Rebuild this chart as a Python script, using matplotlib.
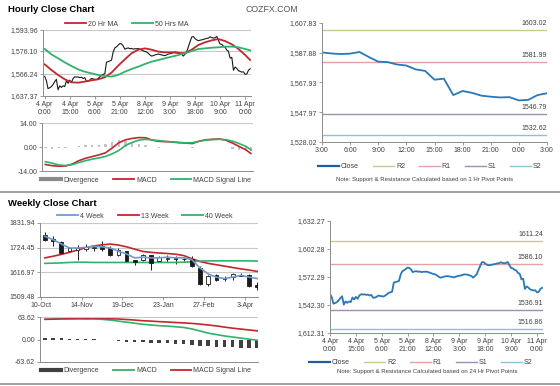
import matplotlib
matplotlib.use("Agg")
import matplotlib.pyplot as plt
from matplotlib.lines import Line2D

plt.rcParams["font.family"] = ["Liberation Sans", "DejaVu Sans"]

W, H = 560, 386

# ---------------- hourly data (4 Apr 0:00 .. 11 Apr 3:00) ----------------
hourly_close = [
    1654.2, 1650.7, 1643.7, 1644.4, 1645.4, 1647.2, 1649.6, 1651.7, 1642.7, 1646.1,
    1644.7, 1646.1, 1645.4, 1650.3, 1648.3, 1651.0, 1648.9, 1652.4, 1653.8, 1653.5,
    1653.8, 1653.1, 1653.5, 1652.4, 1653.1, 1650.0, 1650.3, 1651.0, 1652.4, 1652.0,
    1651.7, 1651.4, 1652.4, 1653.8, 1655.2, 1655.9,
    1656.5, 1666.4, 1666.8, 1667.4, 1668.1, 1675.1, 1678.6, 1679.6, 1681.0, 1682.4,
    1682.0, 1680.3, 1677.5, 1678.2, 1678.6, 1677.9, 1678.2, 1677.5, 1677.9, 1677.9,
    1678.0, 1677.5, 1676.8, 1676.1, 1675.5, 1675.1, 1674.0, 1672.6, 1671.6, 1672.0,
    1672.6, 1673.0, 1673.3, 1673.0, 1672.6, 1672.2, 1672.0, 1672.6, 1673.3, 1673.6,
    1674.0, 1674.6, 1675.1, 1674.9, 1674.7, 1674.0, 1673.3, 1671.6, 1673.3, 1675.1,
    1679.6, 1683.8, 1688.0, 1688.3, 1686.6, 1685.5, 1684.8, 1685.2, 1685.5, 1685.9,
    1686.3, 1686.8, 1687.0,
    1688.1, 1687.4, 1687.0, 1687.3, 1688.4, 1685.0, 1681.9, 1681.6, 1680.0, 1679.3,
    1676.7, 1675.7, 1669.8, 1670.5, 1659.5, 1662.2, 1661.0, 1659.1, 1658.4, 1657.9,
    1658.1, 1655.9, 1656.3, 1659.5, 1660.7,
]
hourly_ticks = ["4 Apr\n0:00", "4 Apr\n15:00", "5 Apr\n6:00", "5 Apr\n21:00", "8 Apr\n12:00",
                "9 Apr\n3:00", "9 Apr\n18:00", "10 Apr\n9:00", "11 Apr\n0:00"]

ma_idx = list(range(0, 124, 4)) + [123]
ma20 = [1664.5, 1659.7, 1655.4, 1651.7, 1649.1, 1648.8, 1649.7, 1650.8, 1651.7, 1653.4,
        1657.4, 1663.4, 1668.8, 1674.0, 1677.1, 1678.2, 1677.1, 1675.4, 1674.8, 1674.8,
        1674.2, 1674.2, 1677.1, 1681.1, 1683.4, 1685.1, 1686.2, 1684.5, 1681.7, 1677.7,
        1672.5, 1668.2]
ma50 = [1677.7, 1673.1, 1669.7, 1666.2, 1663.1, 1660.2, 1658.2, 1656.8, 1655.4, 1654.5,
        1654.0, 1655.4, 1658.2, 1660.5, 1662.5, 1664.8, 1666.8, 1668.2, 1669.7, 1671.1,
        1672.5, 1674.0, 1675.9, 1677.7, 1678.2, 1678.8, 1679.1, 1679.7, 1679.7, 1679.1,
        1677.7, 1676.5]
h_macd = [-10.2, -10.9, -11.2, -11.1, -10.0, -8.0, -6.6, -5.6, -4.6, -3.4,
          -0.6, 2.5, 4.2, 5.0, 5.5, 5.4, 4.0, 3.3, 3.1, 2.9,
          2.5, 2.3, 2.0, 3.4, 4.2, 4.5, 4.7, 4.0, 2.3, 0.3,
          -1.6, -3.8]
h_signal = [-8.6, -9.4, -10.5, -10.8, -10.3, -9.1, -8.0, -7.1, -6.4, -5.5,
            -4.0, -2.0, 0.9, 2.7, 4.0, 4.5, 4.1, 3.7, 3.3, 3.0,
            2.7, 2.4, 2.5, 3.3, 4.0, 4.3, 4.5, 4.3, 3.4, 2.0,
            0.4, -1.6]
h_div = [-0.6, -1.0, -0.8, -0.4, 0.2, 0.6, 1.0, 1.2, 1.4, 1.8,
         3.0, 4.0, 3.5, 2.4, 1.6, 1.0, 0.0, -0.4, -0.2, -0.2,
         -0.2, 0.0, -0.7, 0.0, 0.2, 0.2, 0.2, -0.2, -1.0, -1.6,
         -2.0, -2.3]

h_price_ticks = [1637.37, 1656.24, 1676.10, 1693.96]
h_price_labels = ["1,637.37", "1,566.24", "1,576.10", "1,593.96"]

# 1 hr pivot chart (last 25 hours)
pivot1_ticks = ["3:00", "6:00", "9:00", "12:00", "15:00", "18:00", "21:00", "0:00", "3:00"]
pivot1_yticks = [1628.02, 1647.97, 1667.93, 1687.88, 1707.83]
pivot1_ylabels = ["1,528.02", "1,547.97", "1,567.93", "1,587.88", "1,607.83"]
pivot1_levels = [1703.02, 1681.99, 1646.79, 1632.62]
pivot1_labels = ["1603.02", "1581.99", "1546.79", "1532.62"]

# 24 hr pivot chart
pivot24_yticks = [1612.31, 1642.30, 1672.29, 1702.28, 1732.27]
pivot24_ylabels = ["1,612.31", "1,542.30", "1,572.29", "1,602.28", "1,632.27"]
pivot24_levels = [1711.24, 1686.10, 1636.91, 1616.86]
pivot24_labels = ["1611.24", "1586.10", "1536.91", "1516.86"]

pivot_names = ["R2", "R1", "S1", "S2"]
pivot_colors = ["#c9c98f", "#e3a3a3", "#9a90b0", "#86c5d6"]

# ---------------- weekly data (10 Oct .. 10 Apr) ----------------
wk_open = [1781, 1764, 1749, 1709, 1713, 1719, 1722, 1733, 1723, 1694, 1709, 1669, 1669, 1691,
           1665, 1675, 1680, 1676, 1677, 1636, 1564, 1607, 1590, 1596, 1607, 1607, 1560]
wk_high = [1792, 1774, 1752, 1726, 1737, 1742, 1738, 1752, 1730, 1723, 1711, 1671, 1697, 1694,
           1687, 1691, 1687, 1684, 1687, 1643, 1604, 1609, 1600, 1614, 1614, 1610, 1573]
wk_low = [1755, 1730, 1697, 1706, 1672, 1708, 1712, 1708, 1690, 1690, 1665, 1650, 1665, 1629,
          1662, 1662, 1655, 1665, 1639, 1561, 1556, 1578, 1578, 1585, 1600, 1552, 1541]
wk_close = [1759, 1752, 1701, 1723, 1723, 1727, 1728, 1719, 1694, 1716, 1668, 1661, 1691, 1658,
            1684, 1681, 1675, 1674, 1643, 1564, 1600, 1585, 1594, 1610, 1603, 1559, 1552]
ma4wk = [1774, 1759, 1741, 1723, 1723, 1726, 1730, 1728, 1723, 1709, 1697, 1680, 1683, 1680,
         1680, 1683, 1680, 1680, 1672, 1636, 1610, 1596, 1590, 1596, 1604, 1596, 1590]
ma13wk = [1680, 1687, 1695, 1704, 1714, 1724, 1732, 1737, 1740, 1736, 1728, 1718, 1708, 1704,
          1701, 1699, 1696, 1690, 1676, 1664, 1656, 1650, 1644, 1638, 1632, 1627, 1621]
ma40wk = [1656, 1657, 1658, 1660, 1661, 1661, 1660, 1660, 1660, 1660, 1660, 1660, 1660, 1660,
          1660, 1660, 1660, 1661, 1663, 1666, 1667, 1667, 1667, 1667, 1667, 1667, 1666]
w_macd = [62, 61, 60, 59, 59, 58, 58, 57, 55, 52, 49, 46, 43, 41, 39, 38, 36, 34, 30, 24,
          18, 14, 10, 7, 4, 1, -2]
w_signal = [57, 57.5, 58, 58.5, 59, 59.5, 60, 59.5, 58.5, 58, 56.5, 55, 53, 52, 50.5, 49.5,
            48, 47, 45.5, 43.5, 41, 38.5, 35, 32, 29.5, 27, 24.5]
w_div = [4, 3.5, 3, 2.5, 2, 1.5, 1, -1, -2.5, -4, -6, -7, -8, -9, -10, -11, -12, -13, -15,
         -17, -19, -21, -22, -22, -23, -24, -25]
wk_ticks = ["10-Oct", "14-Nov", "19-Dec", "23-Jan", "27-Feb", "3-Apr"]
wk_yticks = [1509.48, 1616.97, 1724.45, 1831.94]

RED = "#c1272d"
GREEN = "#2fb36a"
BLUE = "#2a78b8"
GRID = "#c8c8c8"
SPINE = "#8c8c8c"
TXT = "#404040"
FS = 5

fig = plt.figure(figsize=(W / 100, H / 100), dpi=100)


def rect(x0, y0, x1, y1):
    return [x0 / W, 1 - y1 / H, (x1 - x0) / W, (y1 - y0) / H]


def style_axes(ax):
    for s in ["top", "right"]:
        ax.spines[s].set_visible(False)
    for s in ["left", "bottom"]:
        ax.spines[s].set_color(SPINE)
        ax.spines[s].set_linewidth(0.7)
    ax.tick_params(labelsize=FS, colors=SPINE, labelcolor=TXT, length=2, width=0.6, pad=1.5)


def add_legend(handles, labels, cx, cy, colsp=2.0):
    fig.legend(handles, labels, loc="center", bbox_to_anchor=(cx / W, 1 - cy / H),
               ncol=len(labels), frameon=False, fontsize=FS, handlelength=3.0,
               handletextpad=0.3, columnspacing=colsp, borderaxespad=0, borderpad=0,
               labelcolor=TXT)


def pivot_chart(ax, close, levels, labels):
    for lvl, lab, col in zip(levels, labels, pivot_colors):
        ax.axhline(lvl, color=col, lw=1.0)
        ax.annotate(lab, (1, lvl), xycoords=("axes fraction", "data"), xytext=(0, 2),
                    textcoords="offset points", ha="right", va="bottom", fontsize=FS, color=TXT)
    ax.plot(range(len(close)), close, color=BLUE, lw=1.3)
    style_axes(ax)


# ---------------- titles and frame ----------------
fig.text(8 / W, 1 - 10 / H, "Hourly Close Chart", fontsize=6.8, fontweight="bold", va="center")
fig.text(245 / W, 1 - 10 / H, "COZFX.COM", fontsize=6.3, color="#555555", va="center")
fig.text(8 / W, 1 - 204 / H, "Weekly Close Chart", fontsize=6.8, fontweight="bold", va="center")
fig.add_artist(Line2D([0, 1], [1 - 192 / H] * 2, color="#9a9a9a", lw=1.3))
fig.add_artist(Line2D([0, 1], [1 - 384 / H] * 2, color="#9a9a9a", lw=1.3))

# ---------------- hourly price ----------------
ax = fig.add_axes(rect(43, 30, 251, 96))
ax.plot(range(len(hourly_close)), hourly_close, color="#1a1a1a", lw=0.8)
ax.plot(ma_idx, ma20, color=RED, lw=1.3)
ax.plot(ma_idx, ma50, color=GREEN, lw=1.3)
ax.set_xlim(-1, 123.5)
ax.set_ylim(h_price_ticks[0], h_price_ticks[-1])
ax.set_yticks(h_price_ticks, h_price_labels)
ax.set_xticks(range(0, 121, 15), hourly_ticks, linespacing=1.15)
ax.yaxis.grid(True, color=GRID, lw=0.8)
ax.set_axisbelow(True)
style_axes(ax)
add_legend([Line2D([], [], color=RED, lw=1.3), Line2D([], [], color=GREEN, lw=1.3)],
           ["20 Hr MA", "50 Hrs MA"], 127, 24)

# ---------------- hourly MACD ----------------
ax = fig.add_axes(rect(42, 123, 253, 171))
ax.bar(ma_idx, h_div, width=1.4, color="#c2c2c2")
ax.plot(ma_idx, h_macd, color=RED, lw=1.2)
ax.plot(ma_idx, h_signal, color=GREEN, lw=1.2)
ax.set_xlim(-2, 124.3)
ax.set_ylim(-14, 14)
ax.set_yticks([-14, 0, 14], ["-14.00", "0.00", "14.00"])
ax.set_xticks([])
ax.axhline(14, color=GRID, lw=0.8)
style_axes(ax)
add_legend([Line2D([], [], color="#8a8a8a", lw=3), Line2D([], [], color=RED, lw=1.3),
            Line2D([], [], color=GREEN, lw=1.3)],
           ["Divergence", "MACD", "MACD Signal Line"], 146, 180)

# ---------------- 1 hr pivot ----------------
ax = fig.add_axes(rect(322, 23, 547, 142))
pivot_chart(ax, hourly_close[-25:], pivot1_levels, pivot1_labels)
ax.set_xlim(0, 24)
ax.set_ylim(pivot1_yticks[0], pivot1_yticks[-1])
ax.set_yticks(pivot1_yticks, pivot1_ylabels)
ax.set_xticks(range(0, 25, 3), pivot1_ticks)
add_legend([Line2D([], [], color="#1f5f99", lw=1.6)] +
           [Line2D([], [], color=c, lw=1.0) for c in pivot_colors],
           ["Close"] + pivot_names, 430, 167)
fig.text(425 / W, 1 - 179 / H, "Note: Support & Resistance Calculated based on 1 Hr Pivot Points",
         fontsize=4.3, ha="center", va="center", color=TXT)

# ---------------- weekly price ----------------
weeks = list(range(len(wk_close)))
ax = fig.add_axes(rect(40, 223, 258, 297))
for k in weeks:
    ax.vlines(k, wk_low[k], wk_high[k], color="#1a1a1a", lw=0.7)
    lo, hi = min(wk_open[k], wk_close[k]), max(wk_open[k], wk_close[k])
    face = "#1a1a1a" if wk_close[k] < wk_open[k] else "white"
    ax.bar(k, max(hi - lo, 1.5), bottom=lo, width=0.45, color=face, edgecolor="#1a1a1a",
           lw=0.6, zorder=3)
ax.plot(weeks, ma4wk, color="#6f9bd0", lw=1.2, zorder=4)
ax.plot(weeks, ma13wk, color=RED, lw=1.2, zorder=2)
ax.plot(weeks, ma40wk, color=GREEN, lw=1.2, zorder=2)
ax.set_xlim(-0.6, 26.1)
ax.set_ylim(wk_yticks[0], wk_yticks[-1])
ax.set_yticks(wk_yticks, ["1509.48", "1616.97", "1724.45", "1831.94"])
ax.set_xticks([k - 0.5 for k in range(0, 26, 5)], wk_ticks)
ax.yaxis.grid(True, color=GRID, lw=0.8)
ax.set_axisbelow(True)
style_axes(ax)
add_legend([Line2D([], [], color="#6f9bd0", lw=1.3), Line2D([], [], color=RED, lw=1.3),
            Line2D([], [], color=GREEN, lw=1.3)],
           ["4 Week", "13 Week", "40 Week"], 145, 216)

# ---------------- weekly MACD ----------------
ax = fig.add_axes(rect(40, 317, 258, 362))
ax.bar(weeks, w_div, width=0.42, color="#404040")
ax.plot(weeks, w_macd, color=GREEN, lw=1.2)
ax.plot(weeks, w_signal, color=RED, lw=1.2)
ax.set_xlim(-0.6, 26.1)
ax.set_ylim(-63.62, 63.62)
ax.set_yticks([-63.62, 0, 63.62], ["-63.62", "0.00", "63.62"])
ax.set_xticks([])
ax.axhline(63.62, color=GRID, lw=0.8)
style_axes(ax)
add_legend([Line2D([], [], color="#404040", lw=3), Line2D([], [], color=GREEN, lw=1.3),
            Line2D([], [], color=RED, lw=1.3)],
           ["Divergence", "MACD", "MACD Signal Line"], 146, 371)

# ---------------- 24 hr pivot ----------------
ax = fig.add_axes(rect(330, 221, 543, 333))
pivot_chart(ax, hourly_close, pivot24_levels, pivot24_labels)
ax.set_xlim(0, 123.5)
ax.set_ylim(pivot24_yticks[0], pivot24_yticks[-1])
ax.set_yticks(pivot24_yticks, pivot24_ylabels)
ax.set_xticks(range(0, 121, 15), hourly_ticks, linespacing=1.15)
add_legend([Line2D([], [], color="#1f5f99", lw=1.6)] +
           [Line2D([], [], color=c, lw=1.0) for c in pivot_colors],
           ["Close"] + pivot_names, 421, 363)
fig.text(427 / W, 1 - 371 / H, "Note: Support & Resistance Calculated based on 24 Hr Pivot Points",
         fontsize=4.3, ha="center", va="center", color=TXT)

fig.savefig("out.png", dpi=100)
